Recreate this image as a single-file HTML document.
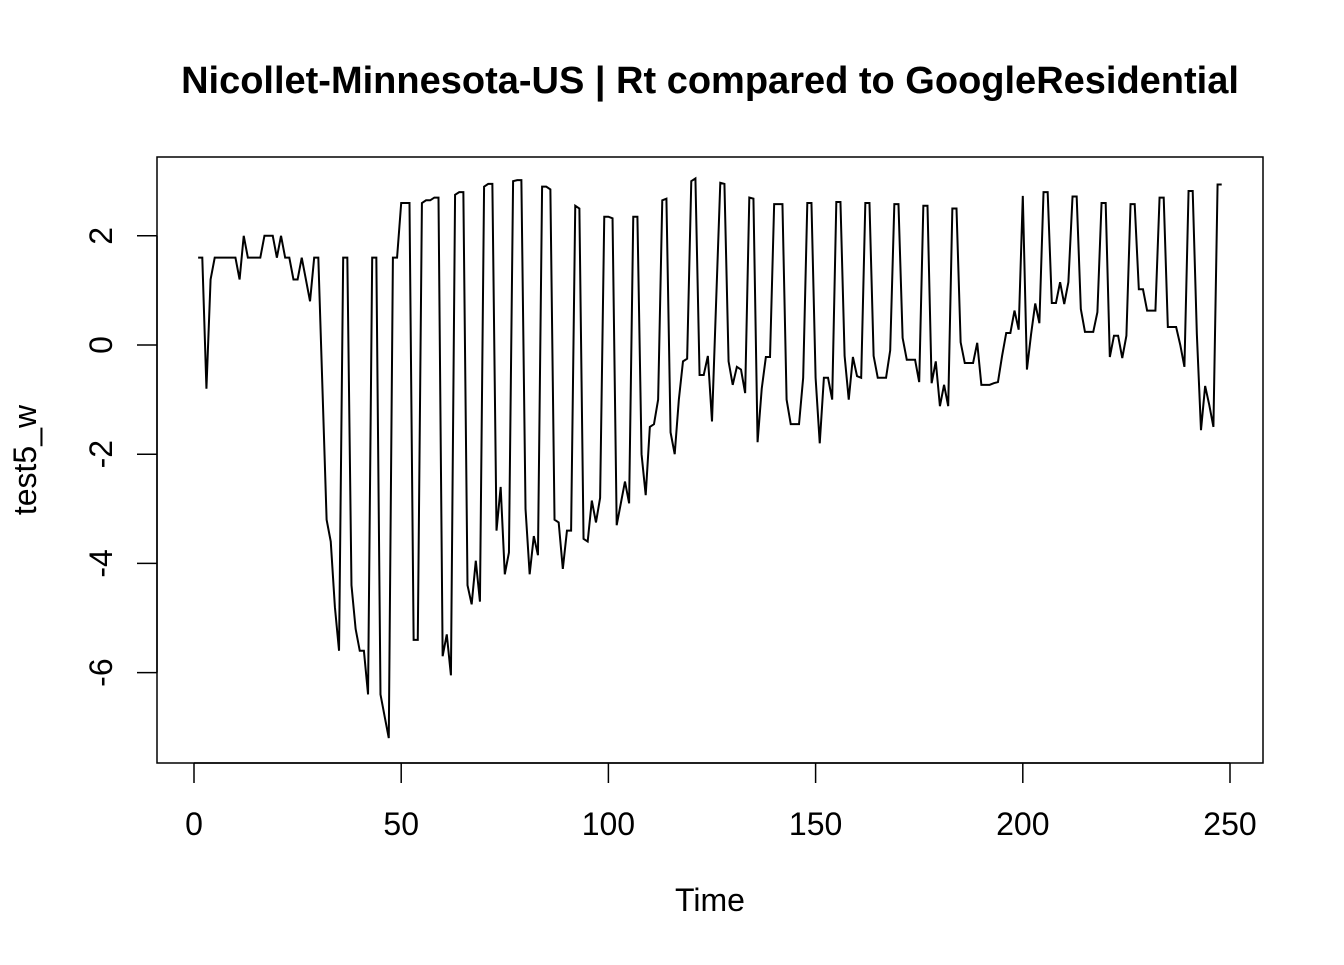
<!DOCTYPE html>
<html><head><meta charset="utf-8"><style>
html,body{margin:0;padding:0;background:#fff;}
svg text{font-family:"Liberation Sans",Arial,sans-serif;fill:#000;}
</style></head><body>
<svg id="chart" width="1344" height="960" xmlns="http://www.w3.org/2000/svg">
<rect width="1344" height="960" fill="#fff"/>
<text x="710" y="93" text-anchor="middle" font-size="38" font-weight="bold">Nicollet-Minnesota-US | Rt compared to GoogleResidential</text>
<rect x="157" y="157" width="1106" height="606" fill="none" stroke="#000" stroke-width="1.5"/>
<g id="xaxis"></g>
<g id="yaxis"></g>
<text x="710" y="911" text-anchor="middle" font-size="32">Time</text>
<text transform="translate(36,460) rotate(-90)" text-anchor="middle" font-size="32">test5_w</text>
<path id="series" fill="none" stroke="#000" stroke-width="2" stroke-linejoin="miter"/>
</svg>
<script>
const xTicks=[0,50,100,150,200,250];
const yTicks=[-6,-4,-2,0,2];
const values=[1.6,1.6,-0.8,1.2,1.6,1.6,1.6,1.6,1.6,1.6,
1.2,2.0,1.6,1.6,1.6,1.6,2.0,2.0,2.0,1.6,
2.0,1.6,1.6,1.2,1.2,1.6,1.2,0.8,1.6,1.6,
-0.8,-3.2,-3.6,-4.8,-5.6,1.6,1.6,-4.4,-5.2,-5.6,
-5.6,-6.4,1.6,1.6,-6.4,-6.8,-7.2,1.6,1.6,2.6,
2.6,2.6,-5.4,-5.4,2.6,2.65,2.65,2.7,2.7,-5.7,
-5.3,-6.05,2.75,2.8,2.8,-4.4,-4.75,-3.95,-4.7,2.9,
2.95,2.95,-3.4,-2.6,-4.2,-3.8,3.0,3.02,3.02,-3.0,
-4.2,-3.5,-3.85,2.9,2.9,2.85,-3.2,-3.25,-4.1,-3.4,
-3.4,2.55,2.5,-3.55,-3.6,-2.85,-3.25,-2.8,2.35,2.35,
2.32,-3.3,-2.9,-2.5,-2.9,2.35,2.35,-2.0,-2.75,-1.5,
-1.45,-1.0,2.65,2.68,-1.6,-2.0,-1.0,-0.3,-0.25,3.0,
3.05,-0.55,-0.55,-0.2,-1.4,0.8,2.97,2.95,-0.3,-0.73,
-0.4,-0.45,-0.88,2.7,2.68,-1.78,-0.8,-0.22,-0.22,2.58,
2.58,2.58,-1.0,-1.45,-1.45,-1.45,-0.6,2.6,2.6,-0.6,
-1.8,-0.6,-0.6,-1.0,2.62,2.62,-0.2,-1.0,-0.22,-0.57,
-0.6,2.6,2.6,-0.2,-0.6,-0.6,-0.6,-0.1,2.58,2.58,
0.13,-0.27,-0.27,-0.27,-0.68,2.55,2.55,-0.7,-0.3,-1.12,
-0.73,-1.12,2.5,2.5,0.05,-0.33,-0.33,-0.33,0.04,-0.73,
-0.73,-0.73,-0.7,-0.68,-0.2,0.22,0.22,0.63,0.28,2.73,
-0.45,0.2,0.76,0.4,2.8,2.8,0.77,0.77,1.15,0.75,
1.15,2.72,2.72,0.66,0.24,0.24,0.24,0.6,2.6,2.6,
-0.22,0.17,0.17,-0.24,0.17,2.58,2.58,1.02,1.02,0.63,
0.63,0.63,2.7,2.7,0.33,0.33,0.33,0.0,-0.4,2.82,
2.82,0.2,-1.56,-0.75,-1.1,-1.5,2.94,2.94];
const NS="http://www.w3.org/2000/svg";
function xs(t){return 194+(t/250)*1036;}
function ys(v){return 345-v*54.6;}
const xa=document.getElementById('xaxis');
const ya=document.getElementById('yaxis');
function mk(tag,attrs,parent){const e=document.createElementNS(NS,tag);for(const k in attrs)e.setAttribute(k,attrs[k]);parent.appendChild(e);return e;}
let l=mk('line',{x1:xs(xTicks[0]),x2:xs(xTicks[xTicks.length-1]),y1:763,y2:763,stroke:'#000','stroke-width':1.5},xa);
xTicks.forEach(t=>{
  const tk=mk('line',{x1:xs(t),x2:xs(t),y1:763,y2:783,stroke:'#000','stroke-width':1.5},xa);
  
  
  const tx=mk('text',{x:xs(t),y:835,'text-anchor':'middle','font-size':32},xa);
  tx.textContent=t;
  
  
});
l=mk('line',{x1:157,x2:157,y1:ys(yTicks[0]),y2:ys(yTicks[yTicks.length-1]),stroke:'#000','stroke-width':1.5},ya);
yTicks.forEach(v=>{
  const tk=mk('line',{x1:137,x2:157,y1:ys(v),y2:ys(v),stroke:'#000','stroke-width':1.5},ya);
  
  
  const tx=mk('text',{transform:`translate(112,${ys(v)}) rotate(-90)`,'text-anchor':'middle','font-size':32},ya);
  tx.textContent=v;
  
  
});
let d='';
values.forEach((v,i)=>{d+=(i?'L':'M')+xs(i+1).toFixed(2)+','+ys(v).toFixed(2);});
document.getElementById('series').setAttribute('d',d);
</script>
</body></html>
